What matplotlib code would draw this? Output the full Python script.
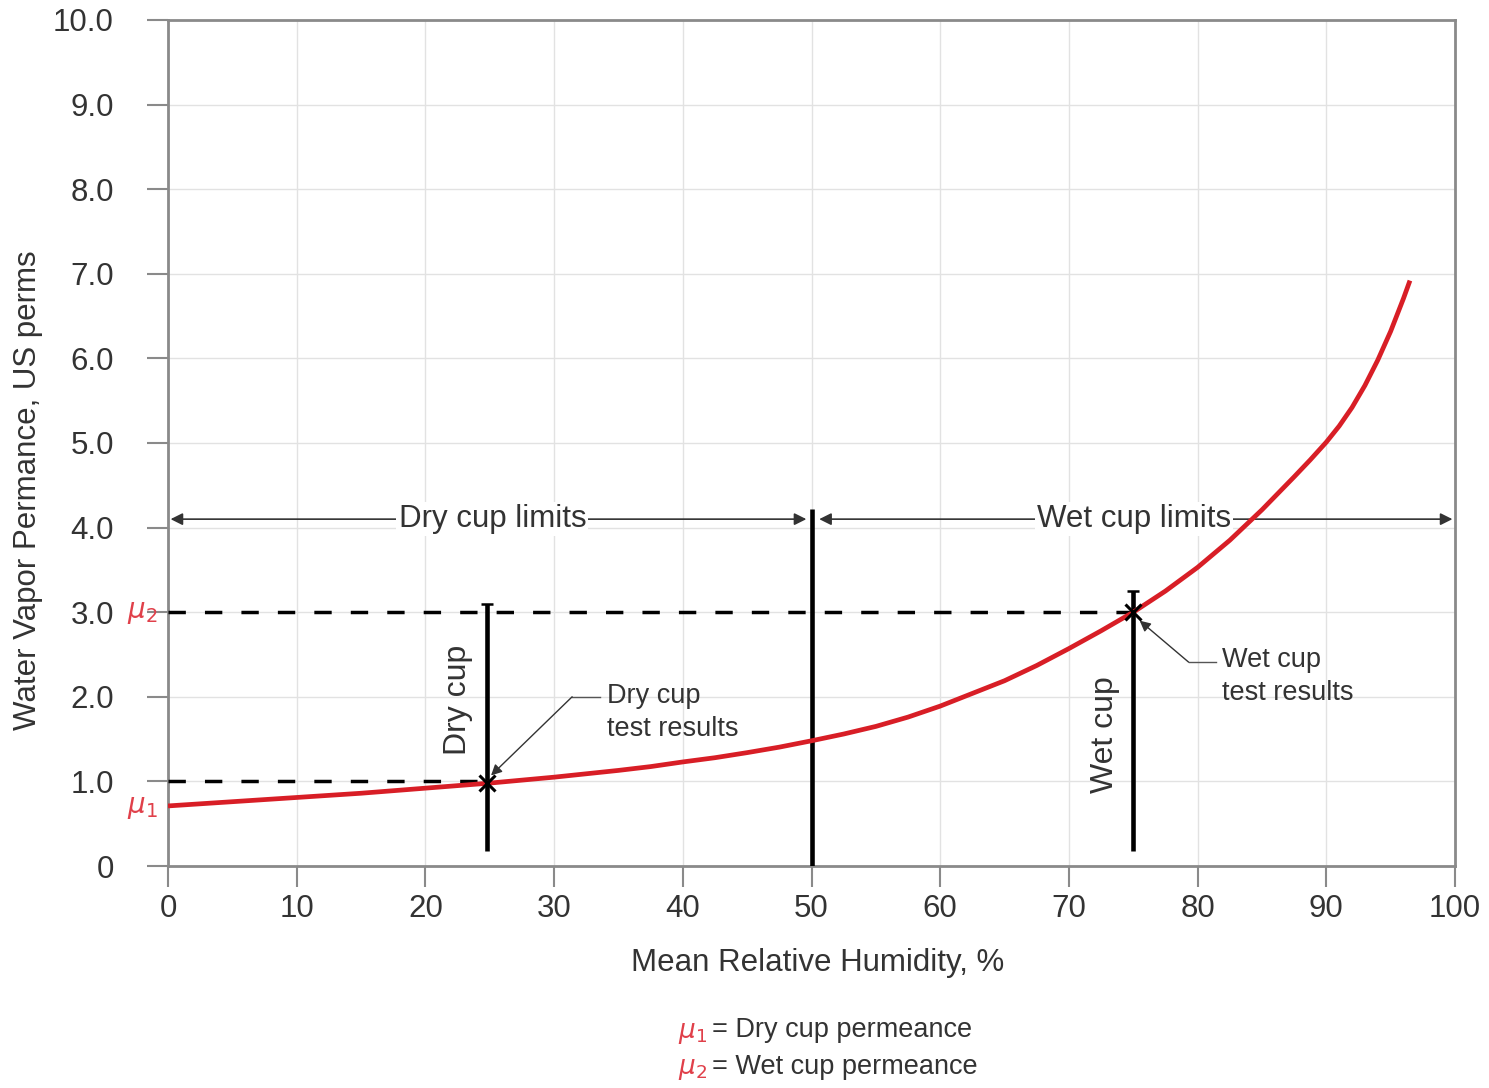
import matplotlib
matplotlib.use("Agg")
import matplotlib.pyplot as plt

plt.rcParams['font.family'] = ['Liberation Sans', 'DejaVu Sans']
plt.rcParams['mathtext.fontset'] = 'dejavusans'

# ---- data ----
rh = [0, 5, 10, 15, 20, 25, 30, 35, 37.5, 40, 42.5, 45, 47.5, 50, 52.5, 55, 57.5, 60,
      62.5, 65, 67.5, 70, 72.5, 75, 77.5, 80, 82.5, 85, 87.5, 88.75, 90, 91, 92, 93,
      94, 95, 96, 96.5]
perm = [0.71, 0.76, 0.81, 0.86, 0.92, 0.98, 1.05, 1.13, 1.175, 1.23, 1.28, 1.34, 1.405,
        1.48, 1.56, 1.65, 1.76, 1.89, 2.04, 2.19, 2.37, 2.57, 2.78, 3.00, 3.25, 3.53,
        3.85, 4.21, 4.60, 4.80, 5.01, 5.20, 5.42, 5.68, 5.98, 6.32, 6.71, 6.92]
x_ticks = [0, 10, 20, 30, 40, 50, 60, 70, 80, 90, 100]
y_ticks = [0, 1, 2, 3, 4, 5, 6, 7, 8, 9, 10]
y_ticklabels = ['0', '1.0', '2.0', '3.0', '4.0', '5.0', '6.0', '7.0', '8.0', '9.0', '10.0']
dry_rh, dry_perm = 24.8, 1.0
wet_rh, wet_perm = 75.0, 3.0
limit_rh = 50
limits_level = 4.1

TXT = '#333333'
RED = '#d81e26'
MU = '#e0404a'

fig = plt.figure(figsize=(14.89, 10.88), dpi=100)
ax = fig.add_axes([168/1489, 1-866/1088, (1455-168)/1489, (866-20)/1088])
ax.set_xlim(0, 100)
ax.set_ylim(0, 10)

ax.set_xticks(x_ticks)
ax.set_yticks(y_ticks)
ax.set_yticklabels(y_ticklabels)
ax.tick_params(axis='both', direction='out', length=15, width=1.5, color='#8a8a8a',
               labelsize=22.5, labelcolor=TXT)
ax.tick_params(axis='y', pad=24)
ax.tick_params(axis='x', pad=5)
ax.grid(True, color='#e2e2e2', lw=1)
ax.set_axisbelow(True)
for s in ax.spines.values():
    s.set_color('#8a8a8a')
    s.set_linewidth(2)

ax.set_xlabel('Mean Relative Humidity, %', fontsize=22.5, color=TXT)
ax.set_ylabel('Water Vapor Permance, US perms', fontsize=22.5, color=TXT)
ax.xaxis.set_label_coords(0.505, -0.097)
ax.yaxis.set_label_coords(-0.097, 0.444)

# dashed reference lines
ax.plot([0, wet_rh], [wet_perm, wet_perm], color='black', lw=2.5, dashes=(5, 5.5), zorder=3)
ax.plot([0, dry_rh], [dry_perm, dry_perm], color='black', lw=2.5, dashes=(5, 5.5), zorder=3)

# vertical lines
ax.plot([limit_rh, limit_rh], [0, 4.22], color='black', lw=3.3, zorder=4, solid_capstyle='butt')
ax.plot([dry_rh, dry_rh], [0.18, 3.1], color='black', lw=3.3, zorder=4, solid_capstyle='butt')
ax.plot([wet_rh, wet_rh], [0.18, 3.25], color='black', lw=3.3, zorder=4, solid_capstyle='butt')
ax.plot([dry_rh, wet_rh], [3.1, 3.25], ls='none', marker='_', ms=8, mew=1.8, color='black', zorder=4)

# limits arrows
arr = dict(arrowstyle='<|-|>', color=TXT, lw=1.2, shrinkA=0, shrinkB=0,
           mutation_scale=18)
ax.annotate('', xy=(0.2, limits_level), xytext=(49.6, limits_level), arrowprops=arr, zorder=3)
ax.annotate('', xy=(50.6, limits_level), xytext=(99.8, limits_level), arrowprops=arr, zorder=3)
box = dict(facecolor='white', edgecolor='none', pad=1.5)
ax.text(25.2, limits_level, 'Dry cup limits', ha='center', va='center', fontsize=22.5,
        color=TXT, bbox=box, zorder=3.5)
ax.text(75.05, limits_level, 'Wet cup limits', ha='center', va='center', fontsize=22.5,
        color=TXT, bbox=box, zorder=3.5)

# curve
ax.plot(rh, perm, color=RED, lw=3.4, zorder=5, solid_capstyle='butt', solid_joinstyle='round')

# intersection markers
ax.plot([dry_rh, wet_rh], [dry_perm - 0.02, wet_perm], ls='none', marker='x', ms=11, mew=2.2,
        color='black', zorder=6)

# vertical labels
ax.text(22.5, 1.96, 'Dry cup', rotation=90, ha='center', va='center', fontsize=23, color=TXT)
ax.text(72.8, 1.55, 'Wet cup', rotation=90, ha='center', va='center', fontsize=23, color=TXT)

# test result callouts
ax.text(34.1, 1.82, 'Dry cup\ntest results', ha='left', va='center', fontsize=19.5,
        color=TXT, linespacing=1.35)
ax.plot([33.6, 31.4], [2.0, 2.0], color='#555555', lw=1, zorder=3)
ax.annotate('', xy=(25.1, 1.07), xytext=(31.4, 2.0),
            arrowprops=dict(arrowstyle='-|>', color='#333333', lw=1, shrinkA=0, shrinkB=0,
                            mutation_scale=16), zorder=6)
ax.text(81.9, 2.24, 'Wet cup\ntest results', ha='left', va='center', fontsize=19.5,
        color=TXT, linespacing=1.35)
ax.plot([81.4, 79.3], [2.41, 2.41], color='#555555', lw=1, zorder=3)
ax.annotate('', xy=(75.5, 2.9), xytext=(79.3, 2.41),
            arrowprops=dict(arrowstyle='-|>', color='#333333', lw=1, shrinkA=0, shrinkB=0,
                            mutation_scale=16), zorder=6)

# mu labels on axis
ax.text(-2.0, 2.99, r'$\mu_2$', ha='center', va='center', fontsize=20, color=MU, clip_on=False)
ax.text(-2.0, 0.69, r'$\mu_1$', ha='center', va='center', fontsize=20, color=MU, clip_on=False)

# bottom key
fig.text(693/1489, 1-1033/1088, r'$\mu_1$', ha='center', va='center', fontsize=19, color=MU)
fig.text(712/1489, 1-1030/1088, '= Dry cup permeance', ha='left', va='center', fontsize=19.5, color=TXT)
fig.text(693/1489, 1-1070/1088, r'$\mu_2$', ha='center', va='center', fontsize=19, color=MU)
fig.text(712/1489, 1-1067/1088, '= Wet cup permeance', ha='left', va='center', fontsize=19.5, color=TXT)

fig.savefig('out.png', dpi=100)
